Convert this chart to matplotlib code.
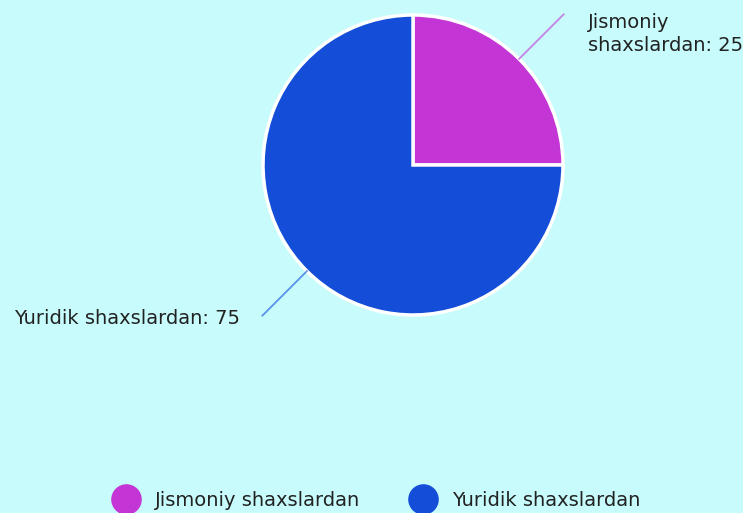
import numpy as np
import matplotlib.pyplot as plt
from matplotlib.lines import Line2D

categories = ["Jismoniy shaxslardan", "Yuridik shaxslardan"]
values = [25, 75]
label_texts = ["Jismoniy\nshaxslardan: 25", "Yuridik shaxslardan: 75"]
colors = ["#c435d6", "#144dd8"]
bg = "#c8fcfc"


def main():
    fig = plt.figure(figsize=(7.43, 5.13), dpi=100, facecolor=bg)
    W, H = 743, 513
    cx, cy, r = 413, 513 - 165, 150
    ax = fig.add_axes([(cx - r) / W, (cy - r) / H, 2 * r / W, 2 * r / H])
    ax.set_facecolor(bg)

    wedges, _ = ax.pie(
        values, colors=colors, startangle=90, counterclock=False,
        wedgeprops=dict(edgecolor="white", linewidth=2.5),
    )
    ax.set_xlim(-1, 1)
    ax.set_ylim(-1, 1)
    ax.set_aspect("equal")
    ax.axis("off")

    for w, txt, col in zip(wedges, label_texts, colors):
        ang = np.deg2rad((w.theta1 + w.theta2) / 2)
        x0, y0 = np.cos(ang), np.sin(ang)
        x1, y1 = 1.42 * x0, 1.42 * y0
        ax.plot([x0, x1], [y0, y1], color=col, alpha=0.6, lw=1.3, clip_on=False)
        if x0 > 0:
            ax.text(x1 + 0.16, y1 + 0.01, txt, ha="left", va="top",
                    fontsize=14, color="#222222", linespacing=1.25)
        else:
            ax.text(x1 - 0.15, y1 - 0.02, txt, ha="right", va="center",
                    fontsize=14, color="#222222")

    handles = [Line2D([], [], marker="o", ls="", markersize=21,
                      markerfacecolor=c, markeredgecolor=c) for c in colors]
    fig.legend(handles, categories, loc="center", bbox_to_anchor=(376 / W, 13 / H),
               ncol=2, frameon=False, fontsize=14, labelcolor="#222222",
               handlelength=1.5, handletextpad=0.75, columnspacing=2.5,
               borderpad=0, borderaxespad=0)

    fig.savefig("out.png", dpi=100, facecolor=bg)


if __name__ == "__main__":
    main()
